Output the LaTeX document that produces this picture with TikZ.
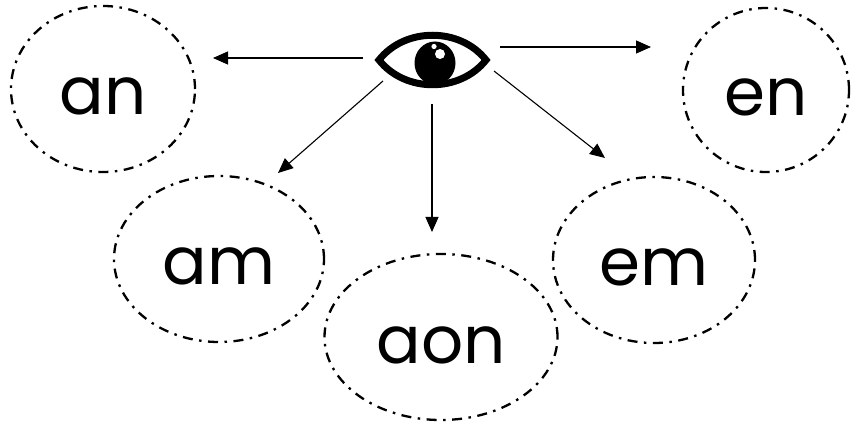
\documentclass[tikz,border=0pt]{standalone}
\usepackage{fontspec}
\setmainfont{Poppins}
\usetikzlibrary{shapes.geometric,arrows.meta}
\tikzset{
  blob/.style={draw, ellipse, line width=2.3pt, dash pattern=on 10pt off 6.5pt on 2.5pt off 6.5pt,
    inner sep=0pt, font=\fontsize{66}{66}\selectfont, text height=52pt, text depth=0pt},
  conn/.style={line width=1.1pt, -{Triangle[length=15pt,width=13pt]}},
}
\begin{document}
\begin{tikzpicture}[x=1pt,y=-1pt]
\useasboundingbox (0,0) rectangle (853,427);
% ellipses
\node[blob, minimum width=184pt, minimum height=166pt] (an) at (103,89) {an};
\node[blob, minimum width=210pt, minimum height=166pt] (am) at (219,259) {am};
\node[blob, minimum width=233pt, minimum height=166pt] (aon) at (441,337) {aon};
\node[blob, minimum width=166pt, minimum height=164pt] (en) at (766,90) {en};
\node[blob, minimum width=202pt, minimum height=166pt] (em) at (654,260) {em};
% eye
\node[minimum width=115pt, minimum height=56pt, inner sep=0pt] (eye) at (432,60) {};
\draw[line width=7pt, line join=miter, miter limit=10]
  (379,60) .. controls (405,27) and (460,27) .. (486,60)
  .. controls (460,93) and (405,93) .. cycle;
\fill (435,63) ellipse [x radius=20.5, y radius=21.5];
\fill[white] (440,54) circle [radius=5];
\fill[white] (434,46.5) circle [radius=2.6];
% arrow endpoints
\coordinate (sL) at (363,58);  \coordinate (tL) at (213,58);
\coordinate (sR) at (500,47);  \coordinate (tR) at (651,47);
\coordinate (sD) at (432,104); \coordinate (tD) at (432,232);
\coordinate (sDL) at (383,81); \coordinate (tDL) at (278,173);
\coordinate (sDR) at (494,71); \coordinate (tDR) at (605,158);
\draw[conn] (sL) -- (tL);
\draw[conn] (sR) -- (tR);
\draw[conn] (sD) -- (tD);
\draw[conn] (sDL) -- (tDL);
\draw[conn] (sDR) -- (tDR);
\end{tikzpicture}
\end{document}
